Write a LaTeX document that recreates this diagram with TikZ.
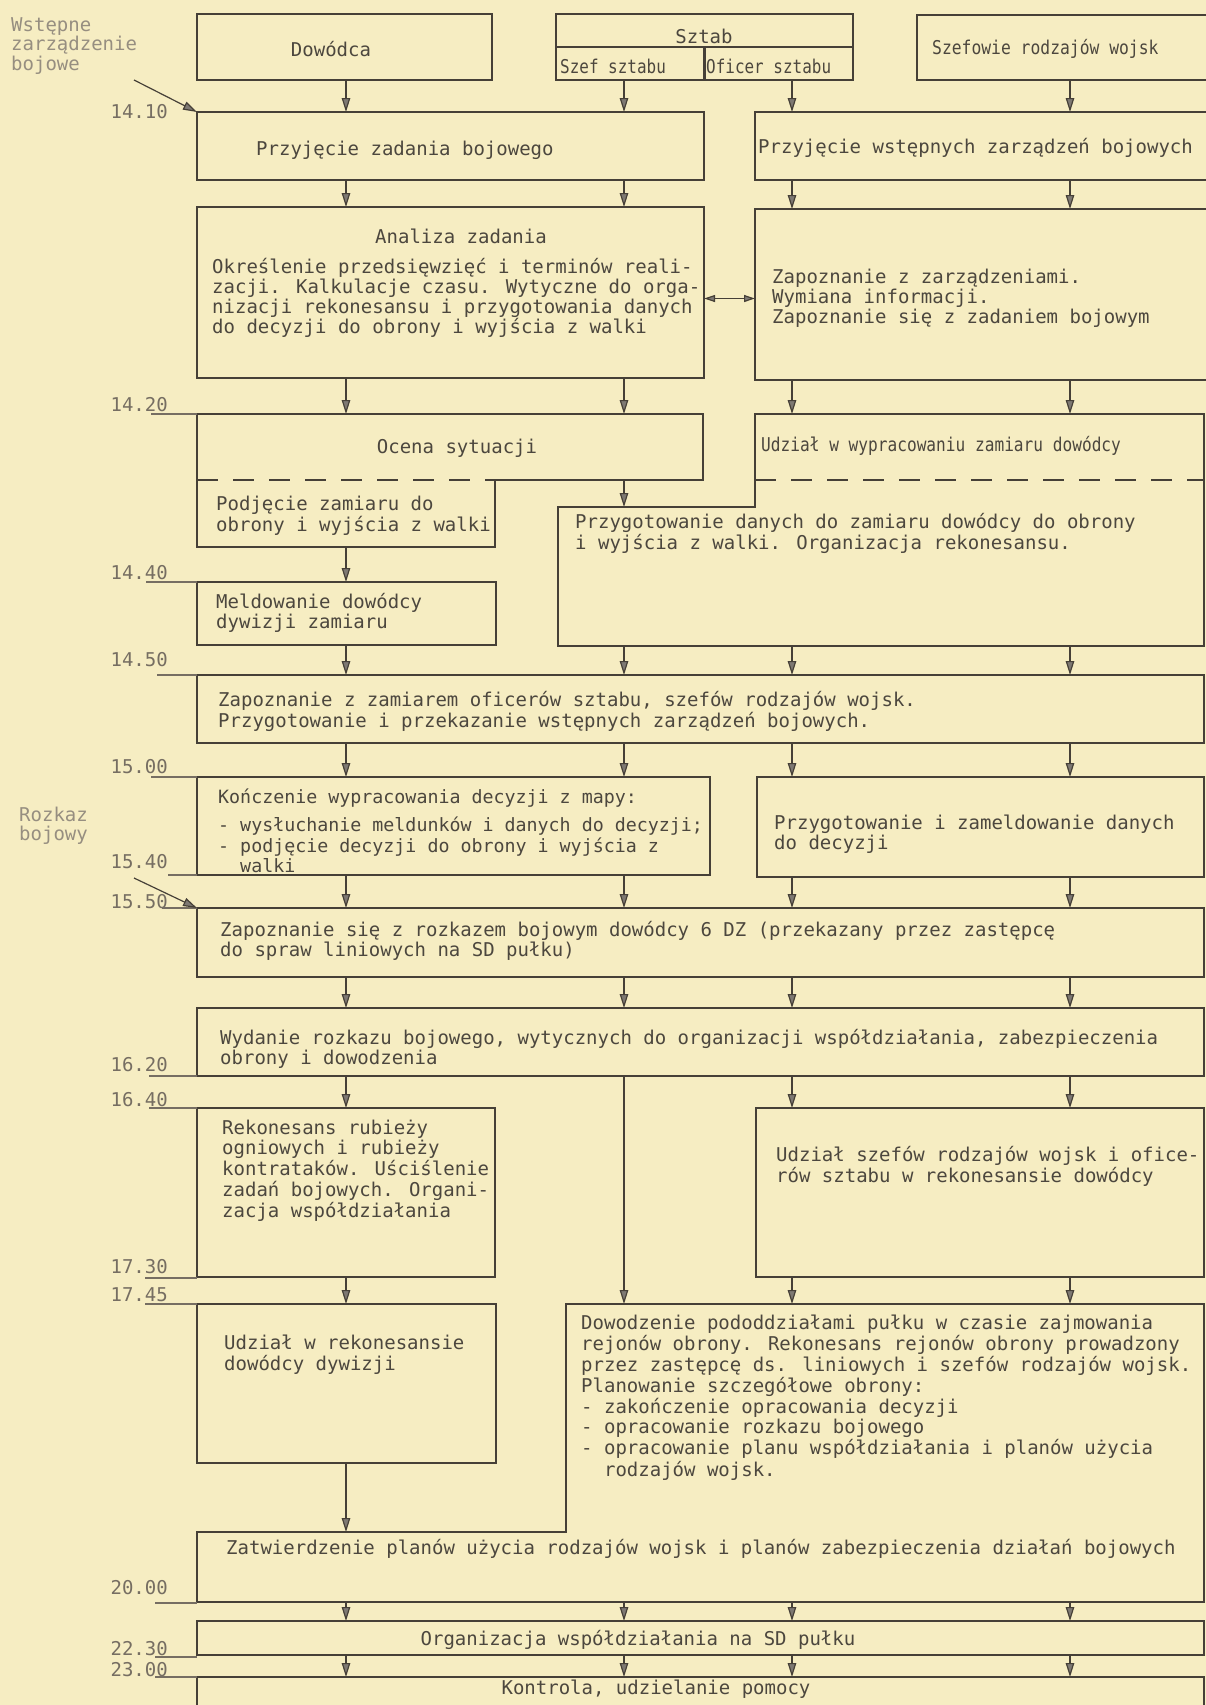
\documentclass[tikz,border=0pt]{standalone}
\usepackage{fontspec}
\usetikzlibrary{arrows.meta}
\newfontfamily\maszyna{DejaVu Sans Mono}
\definecolor{papier}{RGB}{246,237,194}
\definecolor{tusz}{RGB}{70,64,55}
\definecolor{pismo}{RGB}{76,71,62}
\definecolor{blady}{RGB}{118,110,98}
\definecolor{wyblakly}{RGB}{150,142,128}
% ramka: [styl]{nazwa}{x1}{y1}{x2}{y2}
\newcommand{\ramka}[6][blok]{\node[#1,minimum width={(#5-#3)*1pt},minimum height={(#6-#4)*1pt}] (#2) at (#3,#4) {};}
\newcommand{\linie}[1]{\begin{tabular}[t]{@{}l@{}}#1\end{tabular}}
\begin{document}
\begin{tikzpicture}[x=1pt,y=-1pt,
    blok/.style={draw=tusz,line width=2.2pt,rectangle,inner sep=0pt,outer sep=0pt,anchor=north west},
    pole/.style={blok,draw=none},
    obrys/.style={draw=tusz,line width=2.2pt},
    przer/.style={draw=tusz,line width=2.2pt,dash pattern=on 21pt off 15pt},
    txt/.style={font=\maszyna\fontsize{19}{19.7}\selectfont,text=pismo,inner sep=0pt,anchor=base west},
    czas/.style={txt,text=blady,anchor=base east},
    boczny/.style={txt,text=wyblakly,font=\maszyna\fontsize{19}{18.5}\selectfont},
    strz/.style={draw=tusz,line width=1.2pt,-{Triangle[length=14pt,width=8.5pt,fill=tusz!70]}},
    dwa/.style={draw=tusz,line width=1.2pt,{Triangle[length=11pt,width=7pt,fill=tusz!70]}-{Triangle[length=11pt,width=7pt,fill=tusz!70]}},
    kreska/.style={draw=blady,line width=1.3pt}]
\fill[papier] (0,0) rectangle (1206,1705);
\useasboundingbox (0,0) rectangle (1206,1705);
\coordinate (k1) at (346,0);
\coordinate (k2) at (624,0);
\coordinate (k3) at (792,0);
\coordinate (k4) at (1070,0);

% ramki
\ramka{dow}{197}{14}{492}{80}
\ramka{sztab}{556}{14}{853}{80}
\ramka{szef}{917}{15}{1212}{80}
\ramka{pzb}{197}{112}{704}{180}
\ramka{pwz}{755}{112}{1212}{180}
\ramka{analiza}{197}{207}{704}{378}
\ramka{zapoz}{755}{209}{1212}{380}
\ramka[pole]{ocena}{197}{414}{703}{480}
\ramka[pole]{podj}{197}{480}{495}{547}
\ramka[pole]{udzial}{755}{414}{1204}{480}
\ramka[pole]{przygd}{558}{507}{1204}{646}
\ramka{meld}{197}{582}{496}{645}
\ramka{zzam}{197}{675}{1204}{743}
\ramka{konc}{197}{777}{710}{875}
\ramka{pzd}{757}{777}{1204}{877}
\ramka{zsr}{197}{908}{1204}{977}
\ramka{wyd}{197}{1008}{1204}{1076}
\ramka{rek}{197}{1108}{495}{1277}
\ramka{udzs}{756}{1108}{1204}{1277}
\ramka{udr}{197}{1304}{496}{1463}
\ramka[pole]{dowodz}{566}{1304}{1204}{1532}
\ramka[pole]{zatw}{197}{1532}{1204}{1602}
\ramka{org}{197}{1621}{1204}{1655}
\ramka{kontr}{197}{1677}{1204}{1720}

\draw[obrys] (sztab.west) -- (sztab.east) (sztab.center) -- (sztab.south);
\draw[obrys] (podj.north east) -- (ocena.south east) -- (ocena.north east) -- (ocena.north west)
    -- (podj.south west) -- (podj.south east) -- cycle;
\draw[przer] (ocena.south west) -- (podj.north east);
\draw[obrys] (udzial.north west) -- (udzial.north east) -- (przygd.south east) -- (przygd.south west)
    -- (przygd.north west) -- (przygd.north west -| udzial.west) -- cycle;
\draw[przer] (udzial.south west) -- (udzial.south east);
\draw[obrys] (dowodz.north west) -- (dowodz.north east) -- (zatw.south east) -- (zatw.south west)
    -- (zatw.north west) -- (dowodz.south west) -- cycle;

% teksty
\node[txt,anchor=base] (t-dow) at (331,56) {Dowódca};
\node[txt,anchor=base] (t-sztab) at (704,43) {Sztab};
\node[txt] (t-szefsz) at (560,73) {\scalebox{0.84}[1]{Szef sztabu}};
\node[txt] (t-oficer) at (706,73) {\scalebox{0.84}[1]{Oficer sztabu}};
\node[txt] (t-szef) at (932,54) {\scalebox{0.86}[1]{Szefowie rodzajów wojsk}};
\node[txt] (t-pzb) at (256,155) {Przyjęcie zadania bojowego};
\node[txt] (t-pwz) at (758,153) {Przyjęcie wstępnych zarządzeń bojowych};
\node[txt,anchor=base] (t-analiza) at (461,243) {Analiza zadania};
\node[txt,font=\maszyna\fontsize{19}{18.5}\selectfont] (t-analiza2) at (212,273)
    {\linie{Określenie przedsięwzięć i terminów reali-\\zacji. Kalkulacje czasu. Wytyczne do orga-\\nizacji rekonesansu i przygotowania danych\\do decyzji do obrony i wyjścia z walki}};
\node[txt] (t-zapoz) at (772,283) {\linie{Zapoznanie z zarządzeniami.\\Wymiana informacji.\\Zapoznanie się z zadaniem bojowym}};
\node[txt,anchor=base] (t-ocena) at (457,453) {Ocena sytuacji};
\node[txt] (t-podj) at (216,510) {\linie{Podjęcie zamiaru do\\obrony i wyjścia z walki}};
\node[txt] (t-udzial) at (761,451) {\scalebox{0.85}[1]{Udział w wypracowaniu zamiaru dowódcy}};
\node[txt] (t-przygd) at (575,528) {\linie{Przygotowanie danych do zamiaru dowódcy do obrony\\i wyjścia z walki. Organizacja rekonesansu.}};
\node[txt] (t-meld) at (216,608) {\linie{Meldowanie dowódcy\\dywizji zamiaru}};
\node[txt] (t-zzam) at (218,706) {\linie{Zapoznanie z zamiarem oficerów sztabu, szefów rodzajów wojsk.\\Przygotowanie i przekazanie wstępnych zarządzeń bojowych.}};
\node[txt,font=\maszyna\fontsize{18.3}{19.7}\selectfont] (t-konc) at (218,803)
    {\linie{Kończenie wypracowania decyzji z mapy:\\[8pt]- wysłuchanie meldunków i danych do decyzji;\\- podjęcie decyzji do obrony i wyjścia z\\\phantom{- }walki}};
\node[txt] (t-pzd) at (774,829) {\linie{Przygotowanie i zameldowanie danych\\do decyzji}};
\node[txt] (t-zsr) at (220,936) {\linie{Zapoznanie się z rozkazem bojowym dowódcy 6 DZ (przekazany przez zastępcę\\do spraw liniowych na SD pułku)}};
\node[txt] (t-wyd) at (220,1044) {\linie{Wydanie rozkazu bojowego, wytycznych do organizacji współdziałania, zabezpieczenia\\obrony i dowodzenia}};
\node[txt] (t-rek) at (222,1134) {\linie{Rekonesans rubieży\\ogniowych i rubieży\\kontrataków. Uściślenie\\zadań bojowych. Organi-\\zacja współdziałania}};
\node[txt] (t-udzs) at (776,1161) {\linie{Udział szefów rodzajów wojsk i ofice-\\rów sztabu w rekonesansie dowódcy}};
\node[txt] (t-udr) at (224,1349) {\linie{Udział w rekonesansie\\dowódcy dywizji}};
\node[txt] (t-dowodz) at (581,1329) {\linie{Dowodzenie pododdziałami pułku w czasie zajmowania\\rejonów obrony. Rekonesans rejonów obrony prowadzony\\przez zastępcę ds. liniowych i szefów rodzajów wojsk.\\Planowanie szczegółowe obrony:\\- zakończenie opracowania decyzji\\- opracowanie rozkazu bojowego\\- opracowanie planu współdziałania i planów użycia\\\phantom{- }rodzajów wojsk.}};
\node[txt] (t-zatw) at (226,1554) {Zatwierdzenie planów użycia rodzajów wojsk i planów zabezpieczenia działań bojowych};
\node[txt,anchor=base] (t-org) at (638,1645) {Organizacja współdziałania na SD pułku};
\node[txt,anchor=base] (t-kontr) at (656,1694) {Kontrola, udzielanie pomocy};

% strzalki
\foreach \p/\q/\kol in {dow/pzb/k1,sztab/pzb/k2,sztab/pwz/k3,szef/pwz/k4,
    pzb/analiza/k1,pzb/analiza/k2,pwz/zapoz/k3,pwz/zapoz/k4,
    analiza/ocena/k1,analiza/ocena/k2,zapoz/udzial/k3,zapoz/udzial/k4,
    ocena/przygd/k2,podj/meld/k1,meld/zzam/k1,przygd/zzam/k2,przygd/zzam/k3,przygd/zzam/k4,
    zzam/konc/k1,zzam/konc/k2,zzam/pzd/k3,zzam/pzd/k4,
    konc/zsr/k1,konc/zsr/k2,pzd/zsr/k3,pzd/zsr/k4,
    zsr/wyd/k1,zsr/wyd/k2,zsr/wyd/k3,zsr/wyd/k4,
    wyd/rek/k1,wyd/dowodz/k2,wyd/udzs/k3,wyd/udzs/k4,
    rek/udr/k1,udzs/dowodz/k3,udzs/dowodz/k4,udr/zatw/k1,
    zatw/org/k1,zatw/org/k2,zatw/org/k3,zatw/org/k4,
    org/kontr/k1,org/kontr/k2,org/kontr/k3,org/kontr/k4}
  \draw[strz] (\p.south -| \kol) -- (\q.north -| \kol);
\coordinate (dw) at ([yshift=-6pt]analiza.east);
\draw[dwa] (dw) -- (dw -| zapoz.west);

% czasy
\node[czas] (czas0) at (168,118) {14.10};
\foreach \cz/\yb/\yl/\xs [count=\i] in {14.20/411/414/151,14.40/579/582/146,14.50/666/675/157,
    15.00/773/777/151,15.40/868/875/168,15.50/908/908/162,16.20/1071/1076/149,16.40/1106/1108/149,
    17.30/1273/1278/145,17.45/1301/1304/145,20.00/1594/1603/155,22.30/1655/1657/155,23.00/1676/1677/155}{
  \node[czas] (czas\i) at (168,\yb) {\cz};
  \draw[kreska] (\xs,\yl) -- (197,\yl);
}

% opisy z boku
\node[boczny] (wstepne) at (11,31) {\linie{Wstępne\\zarządzenie\\bojowe}};
\node[boczny] (rozkaz) at (19,821) {\linie{Rozkaz\\bojowy}};
\coordinate (wstepne-k) at (134,80);
\coordinate (rozkaz-k) at (134,878);
\draw[strz] (wstepne-k) -- (pzb.north west);
\draw[strz] (rozkaz-k) -- (zsr.north west);
\end{tikzpicture}
\end{document}
